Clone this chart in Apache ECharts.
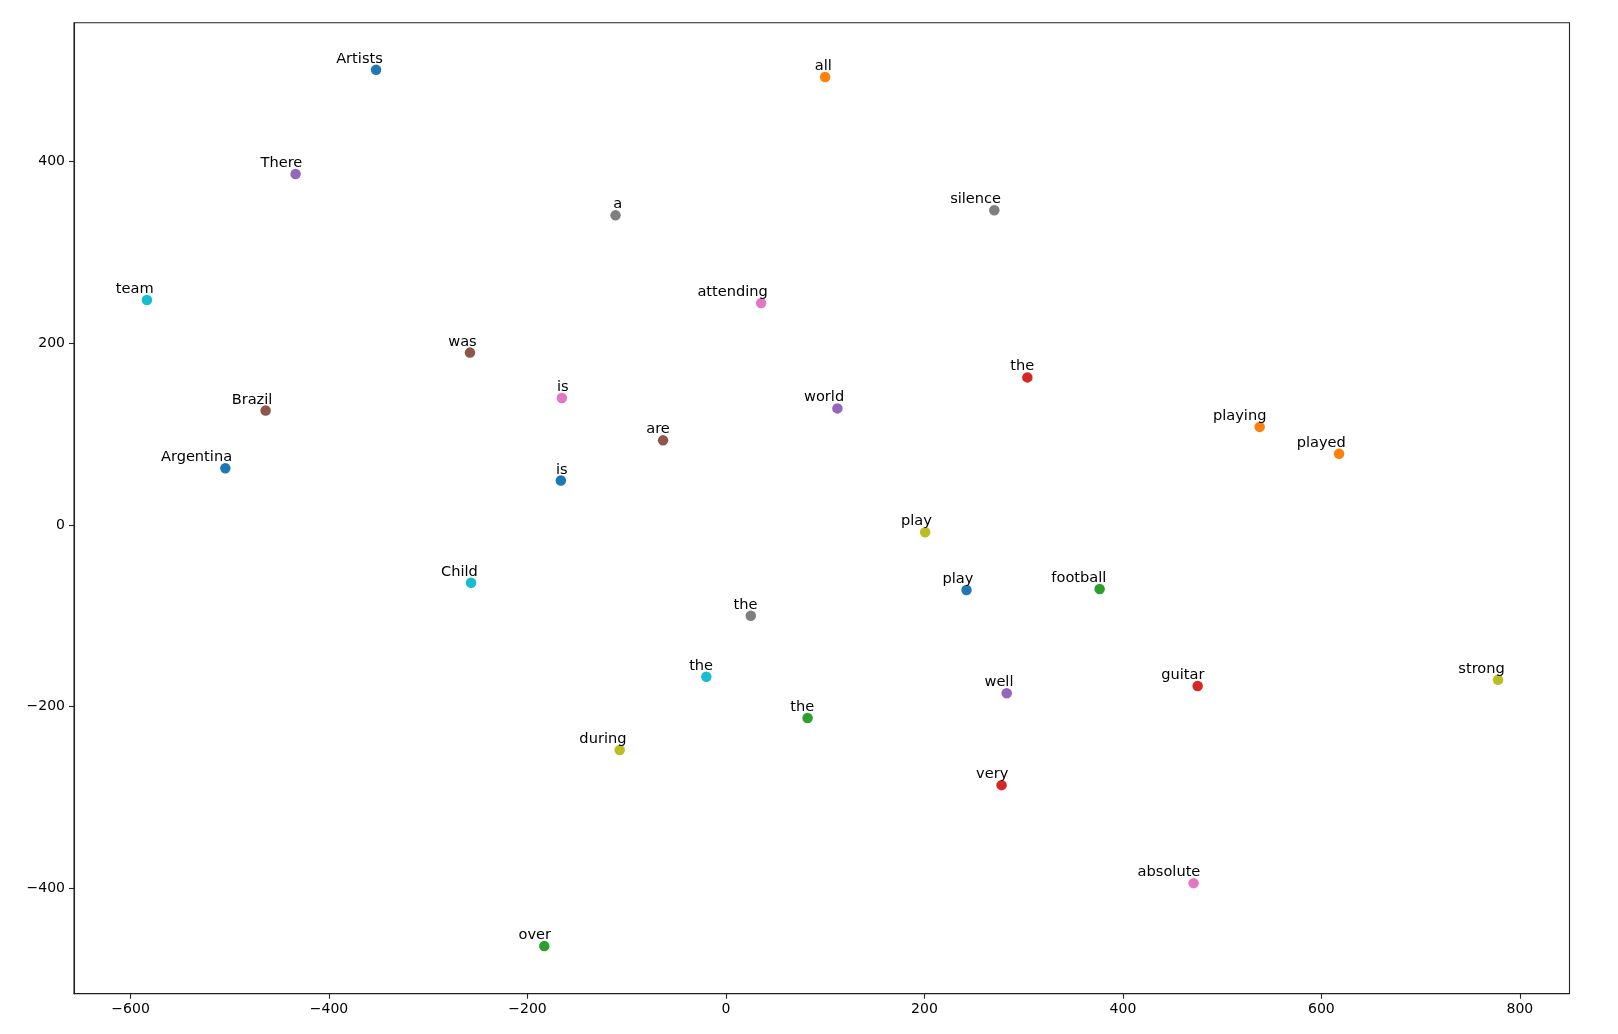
<!DOCTYPE html>
<html><head><meta charset="utf-8">
<script src="https://cdn.jsdelivr.net/npm/echarts@6/dist/echarts.min.js"></script>
<style>html,body{margin:0;padding:0;background:#fff}#c{width:1618px;height:1034px}</style>
</head><body><div id="c"></div>
<script>
const words = ['Argentina','played','football','very','well','Brazil','is','a','strong','team',
  'Artists','all','over','the','world','are','attending','the','play','Child',
  'is','playing','the','guitar','There','was','absolute','silence','during','the','play'];
const xs = [-504.5, 617.8, 376.5, 277.7, 282.9, -463.9, -165.4, -111.3, 778.0, -583.5,
  -352.6, 99.9, -183.1, 303.7, 112.3, -63.4, 35.4, 25.0, 200.7, -256.9,
  -166.4, 537.8, 82.2, 475.3, -433.7, -258.0, 471.2, 270.4, -107.1, -19.8, 242.4];
const ys = [62.5, 78.4, -70.5, -286.4, -185.2, 126.1, 139.8, 340.9, -170.5, 247.7,
  501.1, 493.2, -463.6, 162.5, 128.4, 93.2, 244.3, -100.0, -8.0, -63.6,
  48.9, 108.0, -212.5, -177.3, 386.4, 189.8, -394.3, 346.6, -247.7, -167.0, -71.6];
const palette = ['#1f77b4','#ff7f0e','#2ca02c','#d62728','#9467bd','#8c564b','#e377c2','#7f7f7f','#bcbd22','#17becf'];
const xTicks = [-600,-400,-200,0,200,400,600,800];
const yTicks = [-400,-200,0,200,400];

const font = "'DejaVu Sans', sans-serif";
const chart = echarts.init(document.getElementById('c'), null, {renderer:'canvas'});
const data = words.map((w,i)=>({name:w, value:[xs[i], ys[i]], itemStyle:{color: palette[i % palette.length], opacity:1}}));
const axisCommon = {
  type:'value',
  splitLine:{show:false},
  axisLine:{show:true, onZero:false, lineStyle:{color:'#222', width:1.1}},
  axisTick:{show:true, length:5, lineStyle:{color:'#222', width:1.1}},
  axisLabel:{color:'#000', fontFamily:font, fontSize:14, margin:9}
};
chart.setOption({
  animation:false,
  backgroundColor:'#fff',
  grid:{left:74, right:48.5, top:22.7, bottom:40.3, show:true, borderColor:'#222', borderWidth:1.1, containLabel:false},
  xAxis:Object.assign({}, axisCommon, {min:-657, max:850,
    axisTick:Object.assign({}, axisCommon.axisTick, {customValues:xTicks}),
    axisLabel:Object.assign({}, axisCommon.axisLabel, {customValues:xTicks,
      formatter:v=>String(v).replace('-','\u2212')})}),
  yAxis:Object.assign({}, axisCommon, {min:-516, max:553,
    axisTick:Object.assign({}, axisCommon.axisTick, {customValues:yTicks}),
    axisLabel:Object.assign({}, axisCommon.axisLabel, {customValues:yTicks,
      formatter:v=>String(v).replace('-','\u2212')})}),
  series:[{
    type:'scatter',
    symbolSize:10.5,
    itemStyle:{opacity:1},
    data:data,
    label:{show:true, formatter:'{b}', position:[12,2], align:'right', verticalAlign:'bottom',
      color:'#000', fontFamily:font, fontSize:14.6},
    emphasis:{disabled:true}
  }]
});
</script></body></html>
